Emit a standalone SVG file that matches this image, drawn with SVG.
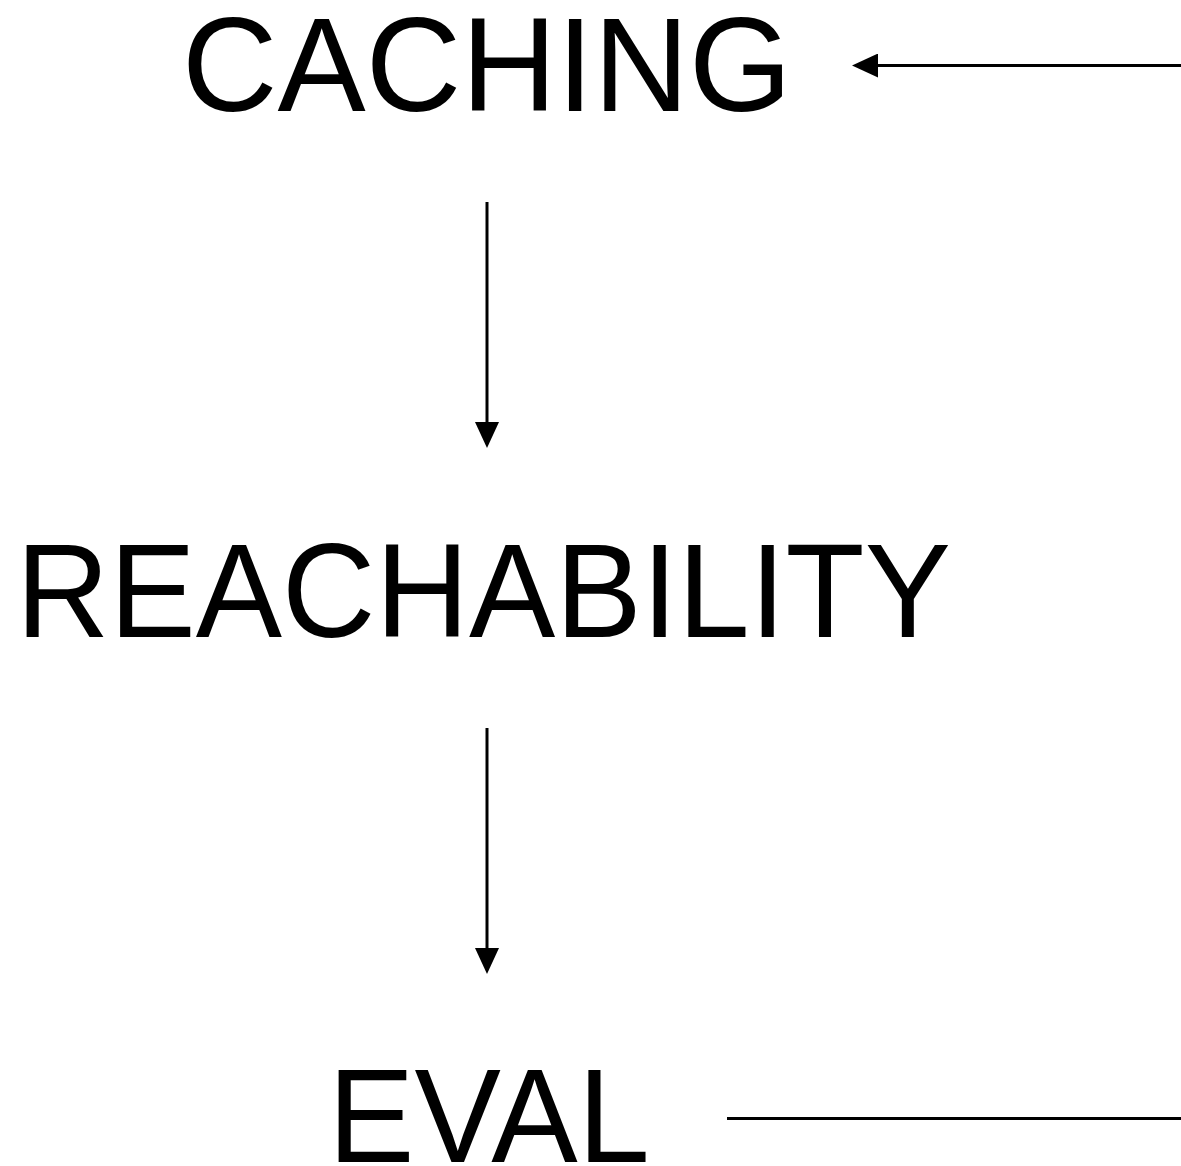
<svg xmlns="http://www.w3.org/2000/svg" width="1181" height="1166" viewBox="0 0 1181 1166">
  <style>
    .label { font-family: "Liberation Sans", Arial, Helvetica, sans-serif; font-size: 133px; fill: #000; }
    .edge { stroke: #000; stroke-width: 3; fill: none; }
  </style>
  <defs>
    <!-- arrowhead starts where the line stops, so the stroke never pokes past the tip -->
    <marker id="arrow" viewBox="0 0 26 24" refX="0" refY="12" markerWidth="26" markerHeight="24" markerUnits="userSpaceOnUse" orient="auto">
      <path d="M0,0 L26,12 L0,24 Z" fill="#000"/>
    </marker>
  </defs>
  <rect width="1181" height="1166" fill="#fff"/>

  <g id="caching">
    <text class="label" x="182" y="111" textLength="610" lengthAdjust="spacingAndGlyphs">CACHING</text>
  </g>
  <g id="reachability">
    <text class="label" x="16" y="637" textLength="935" lengthAdjust="spacingAndGlyphs">REACHABILITY</text>
  </g>
  <g id="eval">
    <text class="label" x="328" y="1162" textLength="322" lengthAdjust="spacingAndGlyphs">EVAL</text>
  </g>

  <g id="connectors">
    <!-- caching to reachability -->
    <line class="edge" x1="487" y1="202" x2="487" y2="422" marker-end="url(#arrow)"/>
    <!-- reachability to eval -->
    <line class="edge" x1="487" y1="728" x2="487" y2="948" marker-end="url(#arrow)"/>
    <!-- loop back from eval to caching, running off the right edge -->
    <line class="edge" x1="727" y1="1118.5" x2="1181" y2="1118.5"/>
    <line class="edge" x1="1181" y1="65.5" x2="878" y2="65.5" marker-end="url(#arrow)"/>
  </g>
</svg>
